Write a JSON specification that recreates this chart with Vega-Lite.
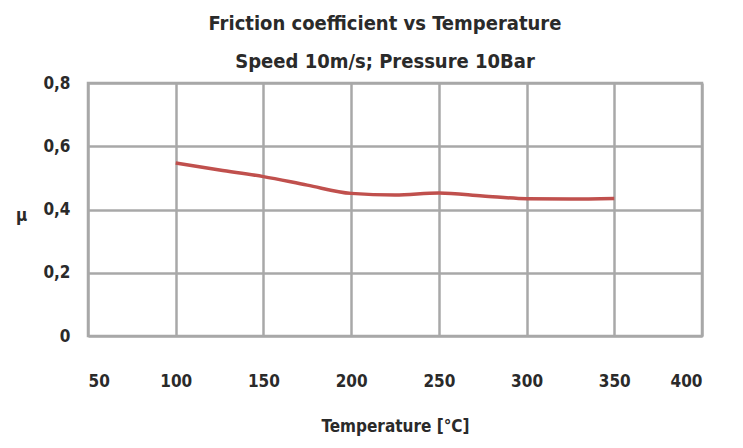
{
  "$schema": "https://vega.github.io/schema/vega-lite/v6.json",
  "autosize": "none",
  "width": 614,
  "height": 253,
  "padding": {"left": 88, "top": 83, "right": 41, "bottom": 112},
  "background": "white",
  "title": {
    "text": ["Friction coefficient vs Temperature", "Speed 10m/s; Pressure 10Bar"],
    "font": "Liberation Sans Narrow, DejaVu Sans Condensed, Arial Narrow, sans-serif",
    "fontSize": 20,
    "fontWeight": "bold",
    "color": "#2a2a2a",
    "lineHeight": 38,
    "anchor": "middle",
    "frame": "group",
    "dx": -10,
    "offset": 2
  },
  "config": {
    "view": {"stroke": "#a8a8a8", "strokeWidth": 2.5},
    "axis": {
      "labelFont": "Liberation Sans Narrow, DejaVu Sans Condensed, Arial Narrow, sans-serif",
      "labelFontSize": 17,
      "labelFontWeight": "bold",
      "labelColor": "#2a2a2a",
      "titleFont": "Liberation Sans Narrow, DejaVu Sans Condensed, Arial Narrow, sans-serif",
      "titleFontSize": 17,
      "titleFontWeight": "bold",
      "titleColor": "#2a2a2a",
      "gridColor": "#a8a8a8",
      "gridWidth": 2.5,
      "gridOpacity": 1,
      "domain": false,
      "ticks": false
    }
  },
  "data": {
    "values": [
      {"temperature": 100, "mu": 0.547},
      {"temperature": 125, "mu": 0.525},
      {"temperature": 150, "mu": 0.504},
      {"temperature": 175, "mu": 0.477},
      {"temperature": 200, "mu": 0.451},
      {"temperature": 225, "mu": 0.446},
      {"temperature": 250, "mu": 0.452},
      {"temperature": 275, "mu": 0.443},
      {"temperature": 300, "mu": 0.434},
      {"temperature": 325, "mu": 0.433},
      {"temperature": 350, "mu": 0.435}
    ]
  },
  "mark": {"type": "line", "color": "#c0504d", "strokeWidth": 3.5, "interpolate": "monotone"},
  "encoding": {
    "x": {
      "field": "temperature",
      "type": "quantitative",
      "scale": {"domain": [50, 400], "nice": false, "zero": false},
      "axis": {
        "values": [50, 100, 150, 200, 250, 300, 350, 400],
        "title": "Temperature [°C]",
        "labelPadding": 37,
        "titlePadding": 29
      }
    },
    "y": {
      "field": "mu",
      "type": "quantitative",
      "scale": {"domain": [0, 0.8], "nice": false},
      "axis": {
        "values": [0, 0.2, 0.4, 0.6, 0.8],
        "labelExpr": "datum.value == 0 ? '0' : replace(format(datum.value, '.1f'), '.', ',')",
        "labelPadding": 18,
        "title": "μ",
        "titleAngle": 0,
        "titleAlign": "center",
        "titleBaseline": "middle",
        "titleX": -67,
        "titleY": 132
      }
    }
  }
}
